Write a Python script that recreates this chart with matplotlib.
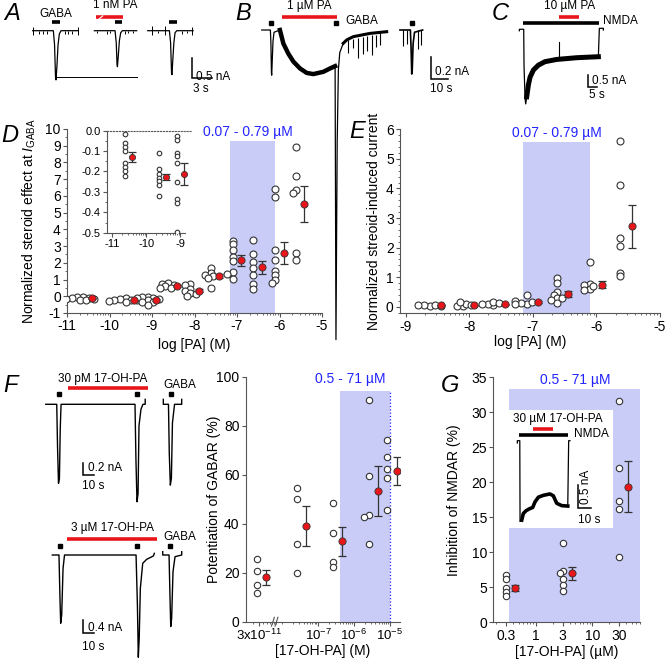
import matplotlib

matplotlib.use("Agg")
import matplotlib.pyplot as plt
import numpy as np
from matplotlib.ticker import FixedLocator, MultipleLocator, LogLocator, NullFormatter, FuncFormatter
from matplotlib.transforms import blended_transform_factory

# ---------------------------------------------------------------------------
# data
# ---------------------------------------------------------------------------
# A: GABA responses, control / 1 nM PA / wash  (t in s, I in nA)
A1_T = [1.15, 4.25, 4.43, 4.58, 4.65, 4.8, 4.95, 5.15, 5.4, 8.0]
A1_I = [0, 0, -0.35, -1.18, -1.23, -0.85, -0.36, -0.08, 0, 0]
A2_T = [10.4, 13.5, 13.68, 13.8, 13.86, 14.0, 14.15, 14.35, 14.6, 16.75]
A2_I = [0, 0, -0.3, -0.85, -0.9, -0.6, -0.25, -0.05, 0, 0]
A3_T = [18.4, 21.65, 21.83, 21.97, 22.03, 22.17, 22.32, 22.5, 22.75, 25.2]
A3_I = [0, 0, -0.3, -1.05, -1.1, -0.7, -0.3, -0.05, 0, 0]
A_TICK_T = [1.15, 2.15, 2.65, 3.25, 6.0, 6.5, 7.0, 8.0, 10.75, 12.25, 12.75, 15.0, 15.5, 16.25,
            19.0, 20.0, 21.0, 23.5, 24.25, 25.0]
A_TICK_LO = [-0.1, -0.08, -0.08, -0.08, -0.08, -0.08, -0.08, -0.1, -0.06, -0.08, -0.06, -0.08, -0.06, -0.06,
             -0.1, -0.06, -0.1, -0.08, -0.06, -0.1]
A_TICK_HI = [0.1, 0, 0, 0, 0, 0, 0, 0.1, 0, 0, 0, 0, 0, 0, 0.12, 0, 0.12, 0, 0, 0.1]
A_REF_I = -1.15
A_GABA_ON = [4.05, 13.5, 21.6]
A_GABA_OFF = [5.25, 14.5, 22.75]
A_PA = [10.65, 14.65]

# B: 1 uM PA induced current
B1_T = [3.9, 8.9, 9.2, 9.5, 9.65, 9.9, 10.4, 11.0, 14.4]
B1_I = [0, 0, -0.12, -0.38, -0.4, -0.3, -0.1, -0.02, 0]
B_PA_T = [14.4, 16.4, 19.3, 22.2, 26.0, 29.9, 33.7, 39.5, 43.4, 46.3]
B_PA_I = [0, -0.12, -0.21, -0.28, -0.34, -0.38, -0.39, -0.37, -0.34, -0.32]
B_PEAK_T = [46.3, 46.8, 47.5, 48.2, 49.0, 51.0]
B_PEAK_I = [-0.32, -2.74, -1.0, -0.35, -0.2, -0.118]
B_REC_T = [51.0, 53.0, 56.8, 66.5, 76.1]
B_REC_I = [-0.118, -0.088, -0.059, -0.03, -0.015]
B_SPK_T = [53.9, 56.5, 59.4, 62.3, 64.6, 67.4, 69.8, 72.3, 85.7, 87.7, 94.4, 95.8]
B_SPK_TOP = [-0.09, -0.08, -0.07, -0.06, -0.05, -0.04, -0.04, -0.03, 0, 0, 0, 0]
B_SPK_BOT = [-0.2, -0.16, -0.25, -0.21, -0.19, -0.22, -0.15, -0.13, -0.14, -0.12, -0.17, -0.13]
B3_T = [83.8, 89.8, 90.2, 90.6, 90.9, 91.4, 92.2, 96.9]
B3_I = [0, 0, -0.15, -0.39, -0.35, -0.12, -0.02, 0]
B_GABA_T = [9.25, 46.8, 90.6]
B_PA = [15.4, 47.2]

# C: NMDA current with 10 uM PA
C_T = [8.6, 8.6, 11.2, 11.4, 12.0, 12.4, 13.0, 14.0, 15.0, 17.0, 20.0, 24.0, 31.0, 43.0, 55.9,
       56.5, 58.9, 58.9]
C_I = [-0.06, 0, 0, -1.5, -2.8, -3.02, -2.73, -2.25, -1.94, -1.65, -1.45, -1.31, -1.22, -1.15, -1.11,
       0.04, 0.04, -0.03]
C_SPIKE = [32.5, -1.2, -0.5]
C_NMDA = [11.0, 56.4]
C_PA = [32.5, 44.5]

# D: normalized steroid effect at I_GABA, log [PA]
D_CONC = [3e-11, 3e-10, 1e-9, 3e-9, 1e-8, 3e-8, 1e-7, 3e-7, 1e-6, 3e-6]
D_VALUES = [
    [-0.016, -0.059, -0.078, -0.098, -0.16, -0.18, -0.2, -0.22],
    [-0.108, -0.19, -0.21, -0.23, -0.245, -0.266, -0.32],
    [-0.026, -0.046, -0.11, -0.124, -0.157, -0.25, -0.337, -0.356, -0.495],
    [0.8, 0.75, 0.68, 0.6, 0.52, 0.48],
    [0.76, 0.68, 0.42, 0.3, 0.2, 0.12, 0.02],
    [1.72, 1.4, 1.3, 1.22, 1.12, 0.52],
    [3.33, 3.11, 2.79, 2.35, 2.09, 1.45, 1.35, 1.06],
    [3.35, 2.52, 2.06, 1.72, 1.26, 0.72, 0.46],
    [6.43, 5.94, 2.79, 2.19, 1.53, 1.25, 1.0, 0.8],
    [8.92, 7.19, 6.37, 6.18, 2.59, 2.15],
]
D_MEAN = [-0.13, -0.225, -0.212, 0.62, 0.33, 1.24, 2.15, 1.73, 2.59, 5.54]
D_SEM = [0.025, 0.015, 0.053, 0.05, 0.1, 0.12, 0.33, 0.38, 0.68, 1.07]
D_BAND = [0.07e-6, 0.79e-6]

# E: normalized steroid-induced current
E_CONC = [3e-9, 1e-8, 3e-8, 1e-7, 3e-7, 1e-6, 3e-6]
E_VALUES = [
    [0.03, 0.06, 0.07, 0.05, 0.04],
    [0.02, 0.04, 0.1, 0.15, 0.06],
    [0.05, 0.1, 0.17, 0.12, 0.08],
    [0.1, 0.13, 0.39, 0.15, 0.2, 0.08],
    [0.98, 0.8, 0.5, 0.39, 0.31, 0.24, 0.13, 0.3],
    [1.52, 0.78, 0.72, 0.61, 0.56, 0.7],
    [5.6, 4.12, 2.32, 2.07, 1.15, 1.03],
]
E_MEAN = [0.06, 0.05, 0.09, 0.16, 0.42, 0.74, 2.72]
E_SEM = [0.01, 0.02, 0.02, 0.04, 0.1, 0.12, 0.73]

# F: 17-OH-PA traces and potentiation of GABAR
FT1_T = [4.9, 14.3, 15.0, 15.8, 16.6, 17.3, 18.0, 81.2, 82.0, 82.9, 83.8, 84.6, 86.3, 88.0, 89.9, 89.9]
FT1_I = [0, 0, -0.7, -1.28, -1.2, -0.4, 0, 0, -0.9, -1.58, -1.45, -0.35, -0.08, 0, 0, 0.08]
FT2_T = [105.4, 105.4, 109.8, 110.5, 111.4, 112.3, 113.2, 115.0, 121.1, 121.1]
FT2_I = [0.08, 0, 0, -0.8, -1.31, -1.2, -0.3, 0, 0, 0.08]
FT_GABA_T = [16.2, 82.6, 111.7]
FT_PA = [23.7, 92.6]
FB1_T = [10.9, 16.8, 17.6, 18.3, 19.2, 20.4, 21.7, 85.0, 86.2, 87.0, 87.8, 88.8, 90.9, 94.4, 100.3, 101.2]
FB1_I = [0, 0, -1.2, -2.05, -1.8, -0.4, 0, 0, -1.5, -3.07, -2.5, -1.0, -0.25, -0.13, -0.03, 0.05]
FB2_T = [108.6, 108.6, 114.2, 115.0, 115.7, 116.5, 117.7, 119.5, 125.4, 125.4]
FB2_I = [0.1, 0, 0, -1.2, -2.15, -1.9, -0.5, -0.05, 0, 0.1]
FB_GABA_T = [17.7, 86.1, 115.0]
FB_PA = [23.6, 103.3]

F_CONC = [3e-11, 3e-8, 3e-7, 3e-6, 1e-5]
F_VALUES = [
    [25.4, 20.8, 15.0, 11.8],
    [54.7, 50.1, 31.6, 19.7],
    [48.3, 36.1, 24.5, 22.4],
    [90.5, 59.5, 43.5, 42.9, 31.7],
    [74.1, 67.1, 62.3, 58.5, 45.6],
]
F_MEAN = [18.2, 39.0, 32.8, 53.5, 61.5]
F_SEM = [3.1, 8.2, 6.0, 10.2, 5.6]
F_BAND = [0.41e-6, 1e-5]

# G: inhibition of NMDAR (uM)
G_CONC = [0.3, 3, 30]
G_VALUES = [
    [6.76, 6.14, 4.86, 4.38, 3.76],
    [11.4, 7.4, 7.1, 6.14, 5.33, 4.48],
    [31.6, 22.0, 17.4, 16.2, 9.3],
]
G_MEAN = [4.95, 7.0, 19.4]
G_SEM = [0.45, 0.95, 3.6]
G_BAND = [0.34, 70]
GI_T = [6.4, 6.4, 8.3, 8.5, 9.8, 11.0, 13.1, 15.6, 18.2, 20.0, 22.6, 26.4, 31.5, 34.1, 36.7, 40.5,
        45.2, 45.9, 46.9]
GI_I = [-0.05, 0, 0, -1.73, -1.70, -1.56, -1.50, -1.46, -1.43, -1.31, -1.21, -1.17, -1.14, -1.18,
        -1.34, -1.39, -1.40, 0, 0]
GI_NMDA = [7.7, 45.2]
GI_PA = [18.7, 34.1]

# ---------------------------------------------------------------------------
plt.rcParams["font.family"] = ["Liberation Sans", "DejaVu Sans"]
plt.rcParams["axes.unicode_minus"] = False
plt.rcParams["mathtext.fontset"] = "custom"
plt.rcParams["mathtext.rm"] = "Liberation Sans"
plt.rcParams["mathtext.it"] = "Liberation Sans:italic"

W, H = 666, 659
RED = "#e8161b"
BAND = "#c9ccf6"
BLUE = "#2323ff"
AX_C = "#555555"
fig = plt.figure(figsize=(W / 100, H / 100), dpi=100)


def px_axes(x0, y0, x1, y1):
    return fig.add_axes([x0 / W, 1 - y1 / H, (x1 - x0) / W, (y1 - y0) / H])


def px_text(x, y, s, **kw):
    kw.setdefault("ha", "center")
    kw.setdefault("va", "center")
    fig.text(x / W, 1 - y / H, s, **kw)


def trace_axes(x0, y0, x1, y1, px_per_s, px_per_na, base_y):
    ax = px_axes(x0, y0, x1, y1)
    ax.set_xlim(0, (x1 - x0) / px_per_s)
    ax.set_ylim(-(y1 - base_y) / px_per_na, (base_y - y0) / px_per_na)
    ax.axis("off")
    return ax


def hbar(ax, t0, t1, y, color="black", lw=2.4):
    ax.plot([t0, t1], [y, y], color=color, lw=lw, solid_capstyle="butt")


def scale_bar(ax, t, i, dt, di):
    ax.plot([t, t, t + dt], [i + di, i, i], color="black", lw=1.1, solid_joinstyle="miter")


def swarm(ax, x0, ys, diam, gap=0.5, step=0.4):
    tr = ax.transData
    cx = tr.transform((x0, ys[0]))[0]
    placed, out = [], []
    for y in ys:
        py = tr.transform((x0, y))[1]
        for k in range(40):
            off = ((k + 1) // 2) * (-1 if k % 2 else 1) * diam * step
            px = cx + off
            if all(np.hypot(px - qx, py - qy) >= gap * diam for qx, qy in placed):
                break
        placed.append((px, py))
        out.append(tr.inverted().transform((px, py))[0])
    return out


def style_axes(ax, size=10):
    for s in ("top", "right"):
        ax.spines[s].set_visible(False)
    for s in ("left", "bottom"):
        ax.spines[s].set_color(AX_C)
    ax.tick_params(which="both", colors=AX_C, labelcolor="black", labelsize=size,
                   direction="out", pad=1.5)
    ax.tick_params(which="major", length=3)
    ax.tick_params(which="minor", length=1.6)


def log_minor(lo, hi):
    return [n + np.log10(k) for n in range(lo, hi) for k in range(2, 10)]


def dots(ax, xs, values, means, sems, circle_dx, mean_dx, diam, ms, mean_ms=5.2):
    for x, vals, m, e in zip(xs, values, means, sems):
        sx = swarm(ax, x + circle_dx, vals, diam)
        ax.plot(sx, vals, "o", ms=ms, mfc="white", mec="#333333", mew=0.8, zorder=3)
        ax.errorbar(x + mean_dx, m, yerr=e, fmt="none", ecolor="#333333", elinewidth=0.9,
                    capsize=2.6, capthick=0.9, zorder=4)
        ax.plot(x + mean_dx, m, "o", ms=mean_ms, mfc=RED, mec="#333333", mew=0.6, zorder=5)


# ---------------------------------------------------------------- panel A
axA = trace_axes(25, 0, 240, 92, 6.67, 40, 30.7)
for t, i in ((A1_T, A1_I), (A2_T, A2_I), (A3_T, A3_I)):
    axA.plot(t, i, color="black", lw=0.9)
axA.vlines(A_TICK_T, A_TICK_LO, A_TICK_HI, color="black", lw=0.7)
axA.plot([A1_T[5], A2_T[-1]], [A_REF_I, A_REF_I], color="black", lw=0.7)
for t0, t1 in zip(A_GABA_ON, A_GABA_OFF):
    hbar(axA, t0, t1, 0.225, lw=2.6)
hbar(axA, A_PA[0], A_PA[1], 0.335, color=RED, lw=2.6)
axA.plot([A_PA[0] + 0.5, A_PA[0] + 1.0], [0.30, 0.37], color="white", lw=0.8)
scale_bar(axA, 25.0, -1.19, 3, 0.5)
px_text(56, 14, "GABA", fontsize=8.5)
px_text(115, 5, "1 nM PA", fontsize=8.5)
px_text(196, 77, "0.5 nA", fontsize=8.5, ha="left")
px_text(201, 89, "3 s", fontsize=8.5)
px_text(12, 14, "A", fontsize=17, style="italic")

# ---------------------------------------------------------------- panel B
axB = trace_axes(255, 0, 460, 345, 1.73, 113, 30)
axB.plot(B1_T, B1_I, color="black", lw=0.9)
axB.plot(B_PA_T, B_PA_I, color="black", lw=3.2)
axB.plot(B_PEAK_T, B_PEAK_I, color="black", lw=0.9)
axB.plot(B_REC_T, B_REC_I, color="black", lw=2.2)
axB.plot(B3_T, B3_I, color="black", lw=1.2)
axB.vlines(B_SPK_T, B_SPK_BOT, B_SPK_TOP, color="black", lw=0.8)
axB.plot(B_GABA_T, [0.065] * 3, "s", ms=2.2, color="black")
hbar(axB, B_PA[0], B_PA[1], 0.112, color=RED, lw=2.6)
scale_bar(axB, 101.7, -0.436, 10, 0.2)
px_text(309, 6, "1 µM PA", fontsize=8.5)
px_text(345, 21, "GABA", fontsize=8.5, ha="left")
px_text(435, 72, "0.2 nA", fontsize=8.5, ha="left")
px_text(430, 89, "10 s", fontsize=8.5, ha="left")
px_text(243, 13, "B", fontsize=17, style="italic")

# ---------------------------------------------------------------- panel C
axC = trace_axes(505, 0, 666, 115, 1.67, 24.7, 29.3)
axC.plot(C_T, C_I, color="black", lw=0.9)
axC.plot(C_T[6:15], C_I[6:15], color="black", lw=3.6)
axC.plot([C_SPIKE[0]] * 2, C_SPIKE[1:], color="black", lw=0.8)
hbar(axC, C_NMDA[0], C_NMDA[1], 0.27, lw=2.6)
hbar(axC, C_PA[0], C_PA[1], 0.51, color=RED, lw=2.6)
scale_bar(axC, 49.9, -2.35, 5, 0.5)
px_text(570, 6, "10 µM PA", fontsize=8.5)
px_text(603, 21, "NMDA", fontsize=8.5, ha="left")
px_text(592, 81, "0.5 nA", fontsize=8.5, ha="left")
px_text(597, 95, "5 s", fontsize=8.5)
px_text(500, 13, "C", fontsize=17, style="italic")

# ---------------------------------------------------------------- panel D
axD = px_axes(67, 129, 322, 313)
axD.set_xlim(-11, -5)
axD.set_ylim(-1, 10)
style_axes(axD)
axD.xaxis.set_major_locator(FixedLocator(range(-11, -4)))
axD.xaxis.set_minor_locator(FixedLocator(log_minor(-11, -5)))
axD.yaxis.set_major_locator(MultipleLocator(1))
axD.yaxis.set_minor_locator(MultipleLocator(0.5))
axD.axvspan(np.log10(D_BAND[0]), np.log10(D_BAND[1]), ymax=10.3 / 11, color=BAND, lw=0, zorder=0)
dots(axD, np.log10(D_CONC), D_VALUES, D_MEAN, D_SEM, -0.1, 0.1, 7, 5.0)
axD.set_ylabel(r"Normalized steroid effect at $\mathit{I}_{\mathrm{GABA}}$", fontsize=10)
axD.yaxis.set_label_coords(-0.115, 0.5)
axD.set_xlabel("log [PA] (M)", fontsize=10)
axD.xaxis.set_label_coords(0.5, -0.135)
px_text(248, 132, "0.07 - 0.79 µM", fontsize=10, color=BLUE)
px_text(10, 135, "D", fontsize=17, style="italic")

axDi = px_axes(107, 130.7, 192, 232.7)
axDi.set_xlim(-11.15, -8.65)
axDi.set_ylim(-0.5, 0)
style_axes(axDi, size=8)
axDi.spines["top"].set_visible(True)
axDi.spines["top"].set_linestyle(":")
axDi.spines["top"].set_color("#555555")
axDi.spines["bottom"].set_bounds(-11.15, -8.85)
axDi.patch.set_alpha(0)
axDi.xaxis.set_major_locator(FixedLocator([-11, -10, -9]))
axDi.xaxis.set_minor_locator(FixedLocator(log_minor(-11, -9)))
axDi.yaxis.set_major_locator(MultipleLocator(0.1))
axDi.yaxis.set_minor_locator(MultipleLocator(0.05))
axDi.yaxis.set_major_formatter(FuncFormatter(lambda v, p: f"{v:.1f}".replace("-0.0", "0.0")))
dots(axDi, np.log10(D_CONC[:3]), D_VALUES[:3], D_MEAN[:3], D_SEM[:3], -0.1, 0.1, 4.6, 3.3, 4.4)

# ---------------------------------------------------------------- panel E
axE = px_axes(400, 129.3, 660, 313.3)
axE.set_xlim(-9.09, -5)
axE.set_ylim(-0.22, 6)
style_axes(axE)
axE.xaxis.set_major_locator(FixedLocator(range(-9, -4)))
axE.xaxis.set_minor_locator(FixedLocator(log_minor(-9, -5)))
axE.yaxis.set_major_locator(MultipleLocator(1))
axE.yaxis.set_minor_locator(MultipleLocator(0.2))
axE.axvspan(np.log10(D_BAND[0]), np.log10(D_BAND[1]), ymax=5.79 / 6.22, color=BAND, lw=0, zorder=0)
dots(axE, np.log10(E_CONC), E_VALUES, E_MEAN, E_SEM, -0.1, 0.08, 7, 5.0)
axE.set_ylabel("Normalized streoid-induced current", fontsize=10)
axE.yaxis.set_label_coords(-0.073, 0.5)
axE.set_xlabel("log [PA] (M)", fontsize=10)
axE.xaxis.set_label_coords(0.5, -0.12)
px_text(557, 133, "0.07 - 0.79 µM", fontsize=10, color=BLUE)
px_text(357, 132, "E", fontsize=17, style="italic")

# ---------------------------------------------------------------- panel F traces
axFt = trace_axes(40, 385, 200, 510, 1.17, 61.7, 404.3)
axFt.plot(FT1_T, FT1_I, color="black", lw=1.0)
axFt.plot(FT2_T, FT2_I, color="black", lw=1.0)
axFt.plot(FT_GABA_T, [0.16] * 3, "s", ms=2.2, color="black")
hbar(axFt, FT_PA[0], FT_PA[1], 0.26, color=RED, lw=2.6)
scale_bar(axFt, 36.5, -1.146, 10, 0.2)
px_text(103, 379, "30 pM 17-OH-PA", fontsize=8.5)
px_text(180, 385, "GABA", fontsize=8.5)
px_text(88, 468, "0.2 nA", fontsize=8.5, ha="left")
px_text(82, 486, "10 s", fontsize=8.5, ha="left")
px_text(10, 385, "F", fontsize=17, style="italic")

axFb = trace_axes(40, 530, 200, 659, 1.13, 33.3, 555)
axFb.plot(FB1_T, FB1_I, color="black", lw=1.0)
axFb.plot(FB2_T, FB2_I, color="black", lw=1.0)
axFb.plot(FB_GABA_T, [0.28] * 3, "s", ms=2.2, color="black")
hbar(axFb, FB_PA[0], FB_PA[1], 0.47, color=RED, lw=2.6)
scale_bar(axFb, 37.8, -2.35, 10, 0.4)
px_text(112, 528, "3 µM 17-OH-PA", fontsize=8.5)
px_text(180, 537, "GABA", fontsize=8.5)
px_text(88, 628, "0.4 nA", fontsize=8.5, ha="left")
px_text(82, 647, "10 s", fontsize=8.5, ha="left")

# ---------------------------------------------------------------- panel F graph
F_SHIFT = 1.87  # the 3x10^-11 group sits left of the axis break
f_pos = np.log10(F_CONC)
f_pos[0] += F_SHIFT
axF = px_axes(245.7, 376.7, 400, 621.7)
axF.set_xlim(-9.02, -4.71)
axF.set_ylim(0, 100)
style_axes(axF, size=9.5)
axF.xaxis.set_major_locator(FixedLocator([f_pos[0], -7, -6, -5]))
axF.set_xticklabels([r"3x10$^{-11}$", r"10$^{-7}$", r"10$^{-6}$", r"10$^{-5}$"])
axF.xaxis.set_minor_locator(FixedLocator(
    [np.log10(k * 1e-11) + F_SHIFT for k in range(2, 10)] + [-8] + log_minor(-8, -5)))
axF.yaxis.set_major_locator(MultipleLocator(20))
axF.tick_params(axis="y", labelsize=10)
axF.axvspan(np.log10(F_BAND[0]), np.log10(F_BAND[1]), ymax=0.943, color=BAND, lw=0, zorder=0)
axF.plot([np.log10(F_BAND[1])] * 2, [0, 94.3], color=BLUE, lw=0.9, ls=":", zorder=1)
brk = blended_transform_factory(axF.transData, axF.transAxes)
for dx in (-0.1, 0.0):
    axF.plot([-8.2 + dx, -8.12 + dx], [-0.018, 0.018], color=AX_C, lw=0.8, transform=brk, clip_on=False)
dots(axF, f_pos, F_VALUES, F_MEAN, F_SEM, -0.06, 0.2, 6.5, 4.6)
axF.set_ylabel("Potentiation of GABAR (%)", fontsize=10)
axF.yaxis.set_label_coords(-0.16, 0.5)
axF.set_xlabel("[17-OH-PA] (M)", fontsize=10)
axF.xaxis.set_label_coords(0.5, -0.092)
px_text(350, 379, "0.5 - 71 µM", fontsize=10, color=BLUE)

# ---------------------------------------------------------------- panel G
axG = px_axes(493.3, 377.3, 640, 622.3)
axG.set_xscale("log")
axG.set_xlim(0.178, 70)
axG.set_ylim(0, 35)
style_axes(axG)
axG.xaxis.set_major_locator(FixedLocator([0.3, 1, 3, 10, 30]))
axG.xaxis.set_major_formatter(FuncFormatter(lambda v, p: f"{v:g}"))
axG.xaxis.set_minor_locator(LogLocator(subs=range(2, 10)))
axG.xaxis.set_minor_formatter(NullFormatter())
axG.yaxis.set_major_locator(MultipleLocator(5))
axG.axvspan(G_BAND[0], G_BAND[1], ymax=33.3 / 35, color=BAND, lw=0, zorder=0)
for x, vals, m, e in zip(G_CONC, G_VALUES, G_MEAN, G_SEM):
    sx = swarm(axG, x, vals, 6.5)
    axG.plot(sx, vals, "o", ms=4.6, mfc="white", mec="#333333", mew=0.8, zorder=3)
    axG.errorbar(x * 1.45, m, yerr=e, fmt="none", ecolor="#333333", elinewidth=0.9,
                 capsize=2.6, capthick=0.9, zorder=4)
    axG.plot(x * 1.45, m, "o", ms=5.2, mfc=RED, mec="#333333", mew=0.6, zorder=5)
axG.set_ylabel("Inhibition of NMDAR (%)", fontsize=10)
axG.yaxis.set_label_coords(-0.22, 0.5)
axG.set_xlabel("[17-OH-PA] (µM)", fontsize=10)
axG.xaxis.set_label_coords(0.5, -0.092)
px_text(575, 380, "0.5 - 71 µM", fontsize=10, color=BLUE)
px_text(450, 385, "G", fontsize=17, style="italic")

axGi = px_axes(509, 410, 613, 528)
axGi.set_facecolor("white")
axGi.set_xticks([])
axGi.set_yticks([])
for s in axGi.spines.values():
    s.set_visible(False)
axGi.set_xlim(0, 104 / 1.3)
axGi.set_ylim(-(528 - 440.7) / 46.7, (440.7 - 410) / 46.7)
axGi.plot(GI_T, GI_I, color="black", lw=0.9)
axGi.plot(GI_T[4:17], GI_I[4:17], color="black", lw=2.6)
hbar(axGi, GI_NMDA[0], GI_NMDA[1], 0.12, lw=2.6)
hbar(axGi, GI_PA[0], GI_PA[1], 0.244, color=RED, lw=2.6)
scale_bar(axGi, 52.8, -1.45, 10, 0.5)
px_text(558, 419, "30 µM 17-OH-PA", fontsize=8.5)
px_text(591, 434, "NMDA", fontsize=8.5)
px_text(586, 487, "0.5 nA", fontsize=8.5, rotation=90)
px_text(589, 520, "10 s", fontsize=8.5)

fig.savefig("out.png", dpi=100)
